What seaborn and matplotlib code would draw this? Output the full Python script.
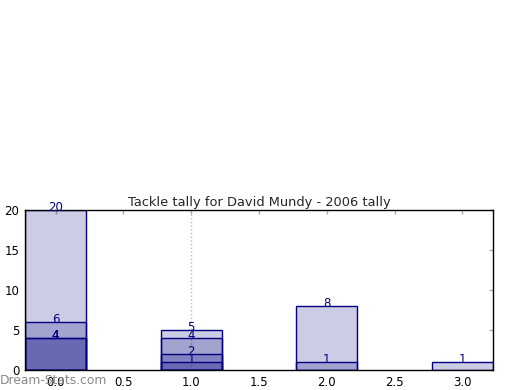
import matplotlib
matplotlib.use("Agg")
import matplotlib.pyplot as plt
import seaborn as sns
import pandas as pd

# Data: overlapping tally layers at each position
positions = [0, 1, 2, 3]
layer_a = [20, 5, 8, 1]
layer_b = [6, 4, 1, 0]
layer_c = [4, 2, 0, 0]
layer_d = [4, 1, 0, 0]
layers = {"a": layer_a, "b": layer_b, "c": layer_c, "d": layer_d}
title = "Tackle tally for David Mundy - 2006 tally"
xticks = [0.0, 0.5, 1.0, 1.5, 2.0, 2.5, 3.0]
yticks = [0, 5, 10, 15, 20]

rows = []
for name, vals in layers.items():
    for p, v in zip(positions, vals):
        if v > 0:
            rows.append({"pos": p, "val": v, "layer": name})
df = pd.DataFrame(rows)

sns.set_style("white")
plt.rcParams["font.family"] = ["DejaVu Sans"]

fig = plt.figure(figsize=(5.2, 3.9), dpi=100)
ax = fig.add_axes([25 / 520, 1 - 370 / 390, 468 / 520, 160 / 390])

ax.axvline(1.0, color="#bbbbbb", linestyle=":", linewidth=1, zorder=0)

sns.barplot(data=df, x="pos", y="val", hue="layer", dodge=False,
            native_scale=True, width=0.45, palette=["navy"] * 4,
            legend=False, ax=ax, errorbar=None)

for patch in ax.patches:
    patch.set_facecolor((0, 0, 0.5, 0.2))
    patch.set_edgecolor("navy")
    patch.set_linewidth(1)

for _, r in df.iterrows():
    ax.annotate(str(int(r["val"])), (r["pos"], r["val"]), xytext=(0, 2),
                textcoords="offset points", ha="center", va="center",
                color="navy", fontsize=8.5)

ax.set_xlim(-0.225, 3.225)
ax.set_ylim(0, 20)
ax.set_xticks(xticks)
ax.set_xticklabels([f"{t:.1f}" for t in xticks])
ax.set_yticks(yticks)
ax.set_xlabel("")
ax.set_ylabel("")
ax.tick_params(direction="in", top=True, right=True, length=3, width=1,
               color="#aaaaaa", labelsize=8.5, labelcolor="black", pad=4)
for s in ax.spines.values():
    s.set_visible(True)
    s.set_color("black")
    s.set_linewidth(1)
ax.set_title(title, fontsize=9.4, pad=3)

fig.text(0.0, 0.008, "Dream-Stats.com", color="#888888", fontsize=8.8,
         ha="left", va="bottom")

fig.savefig("out.png", dpi=100)
